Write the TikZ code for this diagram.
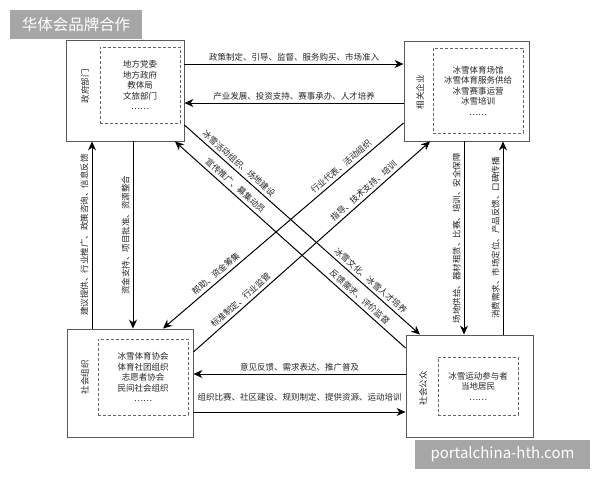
\documentclass[tikz,border=0pt]{standalone}
\usepackage{fontspec}
\newfontfamily\cjk{Noto Sans CJK SC}
\usetikzlibrary{arrows.meta}
\begin{document}
\begin{tikzpicture}[x=1pt,y=-1pt,
    outer/.style={draw=black!65,line width=0.9pt,inner sep=0pt},
    inner/.style={draw=black!60,dash pattern=on 3pt off 2pt,line width=0.8pt,align=center,
      font=\cjk\fontsize{8.5}{10.5}\selectfont,text=black!85},
    side/.style={rotate=90,inner sep=0pt,font=\cjk\fontsize{8.5}{10}\selectfont,text=black!85},
    arr/.style={-{Stealth[length=9pt,width=8pt]},line width=1pt},
    lab/.style={inner sep=2pt,font=\cjk\fontsize{8.5}{9}\selectfont,text=black!85},
    vlab/.style={lab,rotate=90,anchor=south,inner sep=3pt},
    dlab/.style={lab,sloped,above,inner sep=3pt},
    wmark/.style={fill=black!35,text=white,inner sep=0pt}]
    \fill [white] (0,0) rectangle (600,480);
    \useasboundingbox (0,0) rectangle (600,480);
    \node [outer,minimum width=118pt,minimum height=101pt] (gov) at (125,90.5) {};
    \node [outer,minimum width=125pt,minimum height=100pt] (ent) at (466.5,91) {};
    \node [outer,minimum width=126pt,minimum height=108pt] (org) at (130,383) {};
    \node [outer,minimum width=127pt,minimum height=102pt] (pub) at (469.5,386) {};
    \node [inner,minimum width=80pt,minimum height=76pt] (govin) at (140,85) {地方党委\\地方政府\\教体局\\文旅部门\\……};
    \node [inner,minimum width=90pt,minimum height=85pt] (entin) at (478,90.5) {冰雪体育场馆\\冰雪体育服务供给\\冰雪赛事运营\\冰雪培训\\……};
    \node [inner,minimum width=90pt,minimum height=76pt] (orgin) at (143,377) {冰雪体育协会\\体育社团组织\\志愿者协会\\民间社会组织\\……};
    \node [inner,minimum width=80pt,minimum height=58pt] (pubin) at (478,386) {冰雪运动参与者\\当地居民\\……};
    \node [side] (govside) at (85,86) {政府部门};
    \node [side] (entside) at (420,92) {相关企业};
    \node [side] (orgside) at (85,377) {社会组织};
    \node [side] (pubside) at (423,388) {社会公众};
    \draw [arr] (gov.east |- 0,64) -- node [lab,above] (l1) {政策制定、引导、监督、服务购买、市场准入} (ent.west |- 0,64);
    \draw [arr] (ent.west |- 0,103) -- node [lab,above] (l2) {产业发展、投资支持、赛事承办、人才培养} (gov.east |- 0,103);
    \draw [arr] (pub.west |- 0,374) -- node [lab,above] (l3) {意见反馈、需求表达、推广普及} (org.east |- 0,374);
    \draw [arr] (org.east |- 0,412) -- node [lab,above=8pt] (l4) {组织比赛、社区建设、规则制定、提供资源、运动培训} (pub.west |- 0,412);
    \draw [arr] (org.north -| 92,0) -- node [vlab] (l5) {建议提供、行业推广、政策咨询、信息反馈} (gov.south -| 92,0);
    \draw [arr] (gov.south -| 133,0) -- node [vlab] (l6) {资金支持、项目批准、资源整合} (org.north -| 133,0);
    \draw [arr] (ent.south -| 464,0) -- node [vlab] (l7) {场地供给、器材租赁、比赛、培训、安全保障} (pub.north -| 464,0);
    \draw [arr] (pub.north -| 503,0) -- node [vlab] (l8) {消费需求、市场定位、产品反馈、口碑传播} (ent.south -| 503,0);
    \draw [arr] (gov.east |- 0,125) -- node [dlab,pos=0.21] (l9) {冰雪活动组织、场地建设}
      node [dlab,pos=0.77] (l10) {冰雪文化、冰雪人才培养} (pub.north -| 420,0);
    \draw [arr] (pub.west |- 0,348) -- node [dlab,pos=0.22] (l11) {反馈需求、评价监督}
      node [dlab,pos=0.76] (l12) {宣传推广、募集动员} (gov.south -| 175,0);
    \draw [arr] (ent.west |- 0,123) -- node [dlab,pos=0.24] (l13) {行业代表、活动组织}
      node [dlab,pos=0.76] (l14) {帮助、资金筹集} (org.north -| 163,0);
    \draw [arr] (org.east |- 0,352) -- node [dlab,pos=0.22] (l15) {标准制定、行业监管}
      node [dlab,pos=0.74] (l16) {指导、技术支持、培训} (ent.south -| 430,0);
    \node [wmark,minimum width=132pt,minimum height=29pt,font=\cjk\fontsize{15.5}{16}\selectfont] (wm1) at (76,24.5) {华体会品牌合作};
    \node [wmark,minimum width=175pt,minimum height=29pt,font=\cjk\fontsize{15}{16}\selectfont] (wm2) at (502.5,454.5) {portalchina-hth.com};
\end{tikzpicture}
\end{document}
